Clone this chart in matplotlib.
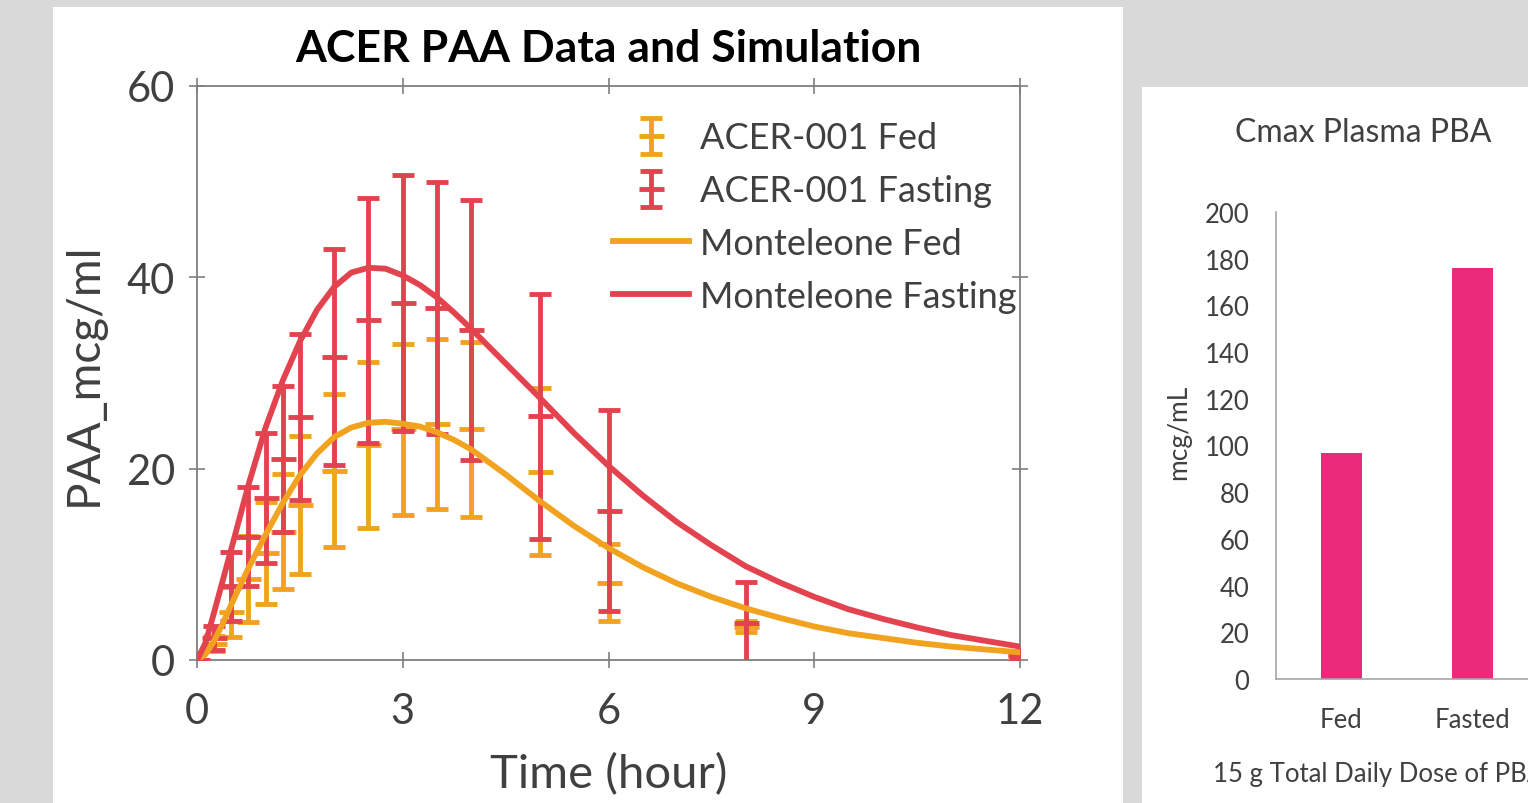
"""ACER PAA data vs simulation, plus Cmax bar panel"""

import matplotlib.pyplot as plt
from matplotlib.patches import Rectangle

plt.rcParams['font.family'] = ['Lato', 'DejaVu Sans']

# sampling times of the ACER-001 data (hours)
t_obs = [0, 0.25, 0.5, 0.75, 1, 1.25, 1.5, 2, 2.5, 3, 3.5, 4, 5, 6, 8, 12]

fed_mean = [0, 1.7, 5.0, 8.5, 11.2, 13.4, 16.2, 19.8, 22.5, 24.1, 24.7, 24.1, 19.7, 8.1, 3.5, 0.4]
fed_err = [0, 0.8, 2.6, 4.5, 5.3, 6.0, 7.2, 8.0, 8.7, 8.9, 8.9, 9.1, 8.7, 4.0, 0.6, 0.3]

fast_mean = [0, 2.3, 7.7, 12.9, 16.9, 21.0, 25.4, 31.7, 35.5, 37.3, 36.8, 34.5, 25.5, 15.6, 3.9, 0.5]
fast_err = [0, 1.3, 3.6, 5.2, 6.8, 7.6, 8.7, 11.3, 12.8, 13.4, 13.2, 13.6, 12.8, 10.5, 4.3, 0.4]

# Monteleone simulation curves
t_sim = [0, 0.125, 0.25, 0.375, 0.5, 0.75, 1, 1.25, 1.5, 1.75, 2, 2.25, 2.5, 2.75, 3,
         3.25, 3.5, 3.75, 4, 4.5, 5, 5.5, 6, 6.5, 7, 7.5, 8, 8.5, 9, 9.5, 10, 10.5,
         11, 11.5, 12]
sim_fed = [0, 0.6, 2.0, 3.8, 5.8, 9.6, 13.1, 16.4, 19.3, 21.6, 23.3, 24.3, 24.8, 24.9,
           24.7, 24.4, 23.8, 23.0, 22.0, 19.4, 16.6, 14.0, 11.7, 9.7, 8.0, 6.6, 5.4,
           4.4, 3.5, 2.8, 2.3, 1.8, 1.4, 1.1, 0.8]
sim_fast = [0, 1.8, 5.0, 8.3, 11.6, 18.3, 24.3, 29.2, 33.3, 36.6, 39.0, 40.5, 41.0,
            40.9, 40.2, 39.2, 37.9, 36.3, 34.6, 31.0, 27.4, 23.7, 20.3, 17.2, 14.4,
            12.0, 9.8, 8.1, 6.6, 5.3, 4.3, 3.4, 2.6, 2.0, 1.4]

# Cmax bar panel
cmax_groups = ['Fed', 'Fasted']
cmax_values = [97, 176]

ORANGE = '#f1a31f'
RED = '#e3434f'
PINK = '#ec2a7c'
GRAY_BG = '#d9d9d9'
TXT = '#404040'

W, H = 1528, 804
fig = plt.figure(figsize=(W / 100, H / 100), dpi=100, facecolor=GRAY_BG)

# white panels behind the two charts
fig.patches.append(Rectangle((53 / W, 0), (1123 - 53) / W, (H - 8) / H,
                             transform=fig.transFigure, facecolor='white',
                             edgecolor='none', zorder=-10))
fig.patches.append(Rectangle((1142 / W, 0), (W - 1142) / W, (H - 88) / H,
                             transform=fig.transFigure, facecolor='white',
                             edgecolor='none', zorder=-10))

# ---- left chart ----
ax = fig.add_axes([197 / W, (H - 661) / H, (1020 - 197) / W, (661 - 87) / H])
ax.set_facecolor('none')

eb_fed = ax.errorbar(t_obs, fed_mean, yerr=fed_err, ls='none', marker='_', ms=18,
                     mew=3.5, color=ORANGE, ecolor=ORANGE, elinewidth=3.5,
                     capsize=8, capthick=3.5, zorder=3)
eb_fast = ax.errorbar(t_obs, fast_mean, yerr=fast_err, ls='none', marker='_', ms=18,
                      mew=3.5, color=RED, ecolor=RED, elinewidth=3.5,
                      capsize=8, capthick=3.5, zorder=4)
ln_fed, = ax.plot(t_sim, sim_fed, color=ORANGE, lw=4.2, zorder=5)
ln_fast, = ax.plot(t_sim, sim_fast, color=RED, lw=4.2, zorder=5)

ax.set_xlim(0, 12)
ax.set_ylim(0, 60)
ax.set_xticks([0, 3, 6, 9, 12])
ax.set_yticks([0, 20, 40, 60])
for s in ax.spines.values():
    s.set_color('#7f7f7f')
    s.set_linewidth(1.3)
ax.tick_params(direction='inout', length=12, width=1.2, color='#7f7f7f',
               labelsize=30, labelcolor=TXT, top=True, right=True)
ax.tick_params(axis='x', pad=17)
ax.tick_params(axis='y', pad=10)
ax.set_xlabel('Time (hour)', fontsize=34, color=TXT, labelpad=16)
ax.set_ylabel('PAA_mcg/ml', fontsize=33, color=TXT, labelpad=16)
ax.set_title('ACER PAA Data and Simulation', fontsize=32, fontweight='bold',
             color='black', pad=18)
ax.legend([eb_fed, eb_fast, ln_fed, ln_fast],
          ['ACER-001 Fed', 'ACER-001 Fasting', 'Monteleone Fed', 'Monteleone Fasting'],
          loc='upper right', bbox_to_anchor=(1.035, 0.995), frameon=False,
          fontsize=26, handlelength=2.1, handletextpad=0.3, labelspacing=0.55,
          labelcolor=TXT)

# ---- right chart (extends past the right edge like the cropped original) ----
bx = fig.add_axes([1276 / W, (H - 680) / H, 393 / W, (680 - 213) / H])
bx.set_facecolor('none')
bx.bar(range(len(cmax_groups)), cmax_values, width=0.31, color=PINK, zorder=2)
bx.set_xlim(-0.5, 2.5)
bx.set_ylim(0, 200)
bx.set_yticks(range(0, 201, 20))
bx.set_xticks(range(len(cmax_groups)))
bx.set_xticklabels(cmax_groups)
for side in ['top', 'right']:
    bx.spines[side].set_visible(False)
for side in ['left', 'bottom']:
    bx.spines[side].set_color('#a6a6a6')
    bx.spines[side].set_linewidth(1.2)
bx.tick_params(length=0, labelsize=18.5, labelcolor=TXT)
bx.tick_params(axis='x', pad=20)
bx.tick_params(axis='y', pad=19)
bx.set_ylabel('mcg/mL', fontsize=19, color=TXT)
bx.yaxis.set_label_coords(-0.215, 0.53)
fig.text(1363 / W, 1 - 133 / H, 'Cmax Plasma PBA', fontsize=23, color=TXT,
         ha='center', va='center')
fig.text(1213 / W, 1 - 775 / H, '15 g Total Daily Dose of PBA', fontsize=18.5,
         color=TXT, ha='left', va='center')

fig.savefig('out.png', dpi=100, facecolor=GRAY_BG)
